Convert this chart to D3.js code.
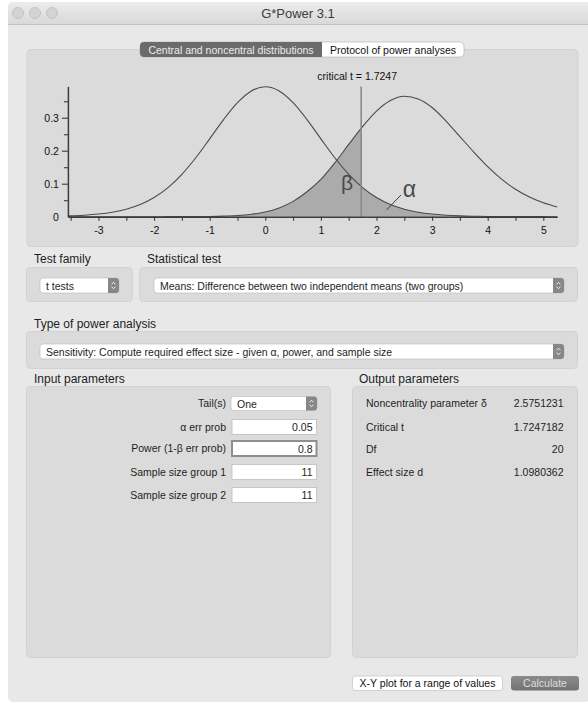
<!DOCTYPE html>
<html>
<head>
<meta charset="utf-8">
<script src="https://cdn.jsdelivr.net/npm/d3@7"></script>
<style>
  body { margin: 0; background: #fff; }
  svg { display: block; font-family: "Helvetica Neue", Helvetica, "Liberation Sans", Arial, sans-serif; }
</style>
</head>
<body>
<div id="app"></div>
<script>
/* G*Power 3.1 — central vs noncentral t distributions (sensitivity analysis) */

// ---- Data ----
const tGrid = [-3.55, -3.25, -3, -2.75, -2.5, -2.25, -2, -1.75, -1.5, -1.25, -1, -0.75, -0.5, -0.25,
  0, 0.25, 0.5, 0.75, 1, 1.25, 1.5, 1.75, 2, 2.25, 2.5, 2.75, 3, 3.25, 3.5, 3.75, 4, 4.25, 4.5, 4.75, 5, 5.25];
const centralDensity = [0.0024, 0.0046, 0.0080, 0.0136, 0.0227, 0.0369, 0.0581, 0.0883, 0.1286, 0.1788, 0.2360, 0.2944, 0.3458, 0.3813,
  0.3940, 0.3813, 0.3458, 0.2944, 0.2360, 0.1788, 0.1286, 0.0883, 0.0581, 0.0369, 0.0227, 0.0136, 0.0080, 0.0046, 0.0026, 0.0015, 0.0008, 0.0005, 0.0003, 0.0001, 0.0001, 0.0000];
const noncentralDensity = [0, 0, 0, 0, 0, 0, 0, 0.0001, 0.0001, 0.0003, 0.0007, 0.0016, 0.0035, 0.0073,
  0.0143, 0.0267, 0.0465, 0.0755, 0.1130, 0.1630, 0.2190, 0.2730, 0.3200, 0.3520, 0.3650, 0.3570, 0.3310, 0.2900, 0.2430, 0.1960, 0.1520, 0.1140, 0.0830, 0.0595, 0.0420, 0.0295];
const criticalT = 1.7247;
const xTickValues = [-3, -2, -1, 0, 1, 2, 3, 4, 5];
const yTickValues = [0, 0.1, 0.2, 0.3];

const testFamily = 't tests';
const statisticalTest = 'Means: Difference between two independent means (two groups)';
const analysisType = 'Sensitivity: Compute required effect size - given α, power, and sample size';
const inputLabels = ['Tail(s)', 'α err prob', 'Power (1-β err prob)', 'Sample size group 1', 'Sample size group 2'];
const inputValues = ['One', '0.05', '0.8', '11', '11'];
const outputLabels = ['Noncentrality parameter δ', 'Critical t', 'Df', 'Effect size d'];
const outputValues = ['2.5751231', '1.7247182', '20', '1.0980362'];

// ---- Page ----
const W = 588, H = 703;
const svg = d3.select('#app').append('svg').attr('width', W).attr('height', H);
const defs = svg.append('defs');

const tbGrad = defs.append('linearGradient').attr('id', 'titleGrad').attr('x1', 0).attr('y1', 0).attr('x2', 0).attr('y2', 1);
tbGrad.append('stop').attr('offset', '0%').attr('stop-color', '#ececec');
tbGrad.append('stop').attr('offset', '100%').attr('stop-color', '#d9d9d9');

const btnGrad = defs.append('linearGradient').attr('id', 'btnGrad').attr('x1', 0).attr('y1', 0).attr('x2', 0).attr('y2', 1);
btnGrad.append('stop').attr('offset', '0%').attr('stop-color', '#8c8c8c');
btnGrad.append('stop').attr('offset', '100%').attr('stop-color', '#737373');

// window
svg.append('rect').attr('x', 8).attr('y', 2).attr('width', 582).attr('height', 700)
  .attr('rx', 5).attr('fill', '#e8e8e8');
svg.append('path')
  .attr('d', 'M8,24 V7 Q8,2 13,2 H590 V24 Z')
  .attr('fill', 'url(#titleGrad)');
svg.append('line').attr('x1', 8).attr('x2', 588).attr('y1', 24.5).attr('y2', 24.5)
  .attr('stroke', '#c4c4c4');

[18, 35, 52].forEach(cx => {
  svg.append('circle').attr('cx', cx).attr('cy', 13).attr('r', 5.5)
    .attr('fill', '#d3d3d3').attr('stroke', '#bdbdbd').attr('stroke-width', 0.8);
});
svg.append('text').attr('x', 298).attr('y', 17.5).attr('text-anchor', 'middle')
  .attr('font-size', 13).attr('fill', '#3c3c3c').text('G*Power 3.1');

// generic helpers
function panel(x, y, w, h) {
  svg.append('rect').attr('x', x + 0.5).attr('y', y + 0.5).attr('width', w).attr('height', h)
    .attr('rx', 4).attr('fill', '#dbdbdb').attr('stroke', '#d2d2d2');
}
function label(x, y, txt, size = 12, anchor = 'start', color = '#1e1e1e') {
  return svg.append('text').attr('x', x).attr('y', y).attr('dy', '0.35em')
    .attr('font-size', size).attr('text-anchor', anchor).attr('fill', color).text(txt);
}
function stepper(x, y, h) {
  svg.append('path')
    .attr('d', `M${x},${y} H${x + 8} Q${x + 11},${y} ${x + 11},${y + 3} V${y + h - 3} Q${x + 11},${y + h} ${x + 8},${y + h} H${x} Z`)
    .attr('fill', '#878787');
  const cx = x + 5.5, cy = y + h / 2;
  svg.append('path')
    .attr('d', `M${cx - 2},${cy - 1.2} L${cx},${cy - 3.2} L${cx + 2},${cy - 1.2} M${cx - 2},${cy + 1.2} L${cx},${cy + 3.2} L${cx + 2},${cy + 1.2}`)
    .attr('fill', 'none').attr('stroke', '#fff').attr('stroke-width', 0.9);
}
function dropdown(x, y, w, h, txt) {
  svg.append('rect').attr('x', x).attr('y', y).attr('width', w).attr('height', h)
    .attr('rx', 3).attr('fill', '#fff').attr('stroke', '#b8b8b8').attr('stroke-width', 0.6);
  stepper(x + w - 11, y, h);
  label(x + 6, y + h / 2 + 0.5, txt, 10.5);
}
function field(x, y, w, h, txt, focus) {
  svg.append('rect').attr('x', x).attr('y', y).attr('width', w).attr('height', h)
    .attr('fill', '#fff').attr('stroke', focus ? '#8f8f8f' : '#b5b5b5').attr('stroke-width', focus ? 2 : 0.7);
  label(x + w - 4, y + h / 2 + 0.5, txt, 10.5, 'end');
}

// ---- Chart panel + tab control ----
panel(26.5, 49, 551, 197);

svg.append('rect').attr('x', 140).attr('y', 42).attr('width', 324).attr('height', 15)
  .attr('rx', 4).attr('fill', '#fff').attr('stroke', '#b0b0b0').attr('stroke-width', 0.6);
svg.append('path').attr('d', 'M322,42 H144 Q140,42 140,46 V53 Q140,57 144,57 H322 Z')
  .attr('fill', '#6b6b6b');
label(231, 50, 'Central and noncentral distributions', 10.5, 'middle', '#ececec');
label(393, 50, 'Protocol of power analyses', 10.5, 'middle', '#111');

// ---- Distribution chart ----
const x = d3.scaleLinear().domain([-3.55, 5.25]).range([67.9, 557.2]);
const y = d3.scaleLinear().domain([0, 0.395]).range([216.7, 86.4]);
const g = svg.append('g');

const pts = key => tGrid.map((t, i) => ({ t, d: key[i] }));
const area = d3.area().x(p => x(p.t)).y0(y(0)).y1(p => y(p.d)).curve(d3.curveMonotoneX);
const line = d3.line().x(p => x(p.t)).y(p => y(p.d)).curve(d3.curveMonotoneX);

// clip regions split at the critical t
defs.append('clipPath').attr('id', 'leftOfCrit').append('rect')
  .attr('x', x.range()[0]).attr('y', 0).attr('width', x(criticalT) - x.range()[0]).attr('height', H);
defs.append('clipPath').attr('id', 'rightOfCrit').append('rect')
  .attr('x', x(criticalT)).attr('y', 0).attr('width', x.range()[1] - x(criticalT)).attr('height', H);

// beta: noncentral left of critical t; alpha: central right of it
g.append('path').datum(pts(noncentralDensity)).attr('d', area)
  .attr('fill', '#ababab').attr('clip-path', 'url(#leftOfCrit)');
g.append('path').datum(pts(centralDensity)).attr('d', area)
  .attr('fill', '#ababab').attr('clip-path', 'url(#rightOfCrit)');

[centralDensity, noncentralDensity].forEach(series => {
  g.append('path').datum(pts(series)).attr('d', line)
    .attr('fill', 'none').attr('stroke', '#4a4a4a').attr('stroke-width', 1.1);
});

// critical line
g.append('line')
  .attr('x1', x(criticalT)).attr('x2', x(criticalT))
  .attr('y1', y.range()[1]).attr('y2', y(0))
  .attr('stroke', '#8a8a8a').attr('stroke-width', 1.6);
g.append('text').attr('x', x(criticalT) - 4).attr('y', 76).attr('dy', '0.35em')
  .attr('text-anchor', 'middle').attr('font-size', 10.5).attr('fill', '#111')
  .text(`critical t = ${criticalT}`);

// axes
const minorX = d3.range(-3.5, 5.01, 0.5);
const xAxis = g.append('g').attr('transform', `translate(0,${y(0)})`)
  .call(d3.axisBottom(x).tickValues(minorX).tickSize(4).tickSizeOuter(0).tickPadding(6)
    .tickFormat(d => xTickValues.includes(d) ? d3.format('')(d).replace('−', '-') : ''));
xAxis.select('.domain').attr('stroke', '#3c3c3c').attr('stroke-width', 1.5);
xAxis.selectAll('.tick line').attr('stroke', '#3c3c3c').attr('stroke-width', 1.1);
xAxis.selectAll('text').attr('font-size', 10.5).attr('fill', '#111')
  .attr('font-family', '"Helvetica Neue", Helvetica, "Liberation Sans", Arial, sans-serif');

const minorY = d3.range(0.05, 0.36, 0.1);
const yMinor = g.append('g').attr('transform', `translate(${x.range()[0]},0)`)
  .call(d3.axisLeft(y).tickValues(minorY).tickSize(4).tickFormat(''));
yMinor.select('.domain').remove();
yMinor.selectAll('.tick line').attr('stroke', '#3c3c3c').attr('stroke-width', 1.1);

const yAxis = g.append('g').attr('transform', `translate(${x.range()[0]},0)`)
  .call(d3.axisLeft(y).tickValues(yTickValues).tickSize(6).tickSizeOuter(0).tickPadding(3)
    .tickFormat(d => d === 0 ? '0' : d3.format('.1f')(d)));
yAxis.select('.domain').attr('stroke', '#3c3c3c').attr('stroke-width', 1.5);
yAxis.selectAll('.tick line').attr('stroke', '#3c3c3c').attr('stroke-width', 1.1);
yAxis.selectAll('text').attr('font-size', 10.5).attr('fill', '#111')
  .attr('font-family', '"Helvetica Neue", Helvetica, "Liberation Sans", Arial, sans-serif');
yAxis.selectAll('.tick').filter(d => d === 0).select('line').remove();

// β and α markers
g.append('text').attr('x', x(1.36)).attr('y', 190)
  .attr('font-size', 21).attr('fill', '#4a4a4a').text('β');
g.append('line').attr('x1', x(2.18)).attr('y1', 210).attr('x2', x(2.44)).attr('y2', 195)
  .attr('stroke', '#3c3c3c').attr('stroke-width', 1);
g.append('text').attr('x', x(2.47)).attr('y', 197)
  .attr('font-size', 23).attr('fill', '#4a4a4a').text('α');

// ---- Test family / Statistical test ----
label(34, 259, 'Test family', 12);
label(147, 259, 'Statistical test', 12);
panel(26, 267, 106, 34);
panel(139, 267, 438, 34);
dropdown(40, 278, 79, 15, testFamily);
dropdown(154, 278, 410, 15, statisticalTest);

// ---- Type of power analysis ----
label(34, 324, 'Type of power analysis', 12);
panel(26, 331, 551, 37);
dropdown(40, 344, 524, 15, analysisType);

// ---- Input parameters ----
label(34, 379, 'Input parameters', 12);
panel(26, 386, 304, 271);
const rowY = [403.5, 427, 448.5, 472, 495];
inputLabels.forEach((txt, i) => label(226, rowY[i], txt, 10.5, 'end'));
dropdown(231, 396.5, 86, 14, inputValues[0]);
inputValues.slice(1).forEach((v, i) => {
  const cy = rowY[i + 1];
  field(232, cy - 7.5, 84.5, 15, v, i === 1);
});

// ---- Output parameters ----
label(359, 379, 'Output parameters', 12);
panel(352, 386, 225, 271);
const outY = [403.5, 427, 449.5, 472.5];
outputLabels.forEach((txt, i) => {
  label(366, outY[i], txt, 10.5);
  label(563.5, outY[i], outputValues[i], 10.5, 'end');
});

// ---- Buttons ----
svg.append('rect').attr('x', 352.5).attr('y', 676).attr('width', 150).attr('height', 14.5)
  .attr('rx', 3).attr('fill', '#fff').attr('stroke', '#b8b8b8').attr('stroke-width', 0.6);
label(427.5, 683.5, 'X-Y plot for a range of values', 10.5, 'middle', '#111');
svg.append('rect').attr('x', 511).attr('y', 676).attr('width', 68).attr('height', 14.5)
  .attr('rx', 3).attr('fill', 'url(#btnGrad)');
label(545, 683.5, 'Calculate', 10.5, 'middle', '#dedede');
</script>
</body>
</html>
